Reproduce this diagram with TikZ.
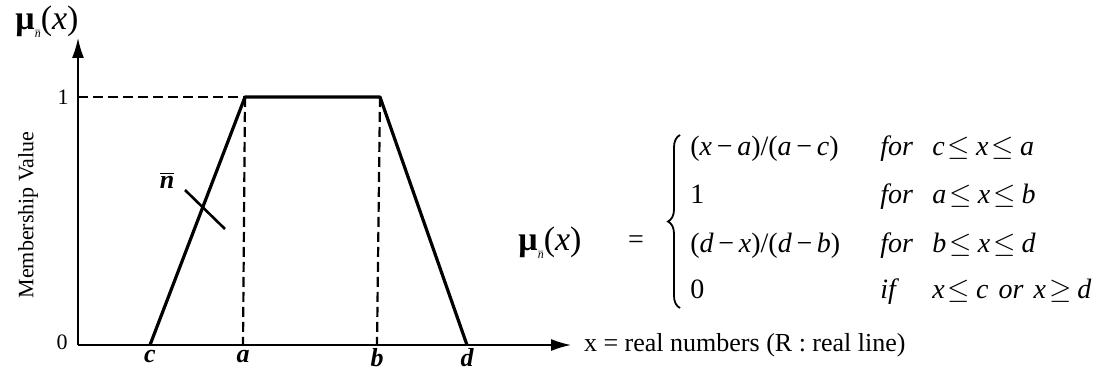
\documentclass[tikz,border=0pt]{standalone}
\usepackage{fontspec}
\setmainfont{Liberation Serif}
\usetikzlibrary{arrows.meta,decorations.pathreplacing}
\tikzset{
  mfaxis/.style={line width=0.8pt, -{Latex[length=10pt,width=6pt]}},
  mfedge/.style={line width=1.6pt},
  mfdash/.style={line width=1.1pt, dash pattern=on 5pt off 2.5pt},
  mfbrace/.style={line width=0.9pt, decorate, decoration={brace, amplitude=6pt}},
  mflab/.style={font=\fontsize{11}{13}\selectfont, inner sep=1pt},
  mfpt/.style={font=\fontsize{13}{15}\selectfont\bfseries\itshape, inner sep=0pt},
  mfrow/.style={anchor=base west, font=\fontsize{14}{16}\selectfont, inner sep=0pt},
}
\newcommand{\mfmu}{\textbf{μ}\raisebox{-0.5ex}{\fontsize{6}{7}\selectfont$\bar{\mbox{\textit{n}}}$}(\textit{x})}
\newcommand{\mfle}{\hspace{1.5pt}$\leq$\hspace{3pt}}
\newcommand{\mfge}{\hspace{1.5pt}$\geq$\hspace{3pt}}

\begin{document}
\begin{tikzpicture}[x=0.5pt, y=0.5pt]
  \useasboundingbox (0,0) rectangle (1109,370);

  % axes
  \coordinate (o) at (78,25);
  \coordinate (ytip) at (78,332);
  \coordinate (xtip) at (571,25);
  \draw[mfaxis] (o) -- (ytip);
  \draw[mfaxis] (o) -- (xtip);

  % trapezoid corners
  \coordinate (c0) at (150,25);
  \coordinate (a1) at (245,273);
  \coordinate (b1) at (380,273);
  \coordinate (d0) at (467,25);
  \coordinate (a0) at (243,25);
  \coordinate (b0) at (377,25);
  \coordinate (y1) at (78,273);

  \draw[mfdash] (y1) -- (a1);
  \draw[mfdash] (a1) -- (a0);
  \draw[mfdash] (b1) -- (b0);
  \draw[mfedge, line join=round] (c0) -- (a1) -- (b1) -- (d0);

  % labels on axes
  \node[font=\fontsize{17}{19}\selectfont] (ylab) at (47,348) {\mfmu};
  \node[mflab, rotate=90] (mval) at (28,155) {Membership Value};
  \node[mflab] (one) at (63,273) {1};
  \node[mflab] (zero) at (62,28) {0};
  \node[mfpt] (lc) at (150,13) {c};
  \node[mfpt] (la) at (243,13) {a};
  \node[mfpt] (lb) at (377,12) {b};
  \node[mfpt] (ld) at (467,12) {d};
  \node[anchor=west, font=\fontsize{13}{15}\selectfont] (xlab) at (577,25) {x = real numbers (R : real line)};

  % fuzzy number label
  \node[mfpt] (nbar) at (167,190) {$\overline{\mbox{\textit{n}}}$};
  \coordinate (lead1) at (185,180);
  \coordinate (lead2) at (225,141);
  \draw[line width=1.3pt] (lead1) -- (lead2);

  % definition
  \node[font=\fontsize{17}{19}\selectfont] (eqmu) at (550,127) {\mfmu};
  \node[font=\fontsize{14}{16}\selectfont] (eq) at (636,128) {=};
  \coordinate (brbot) at (680,62);
  \coordinate (brtop) at (680,235);
  \draw[mfbrace] (brbot) -- (brtop);

  \node[mfrow] (r1) at (690,214) {(\textit{x}\,−\,\textit{a})/(\textit{a}\,−\,\textit{c})};
  \node[mfrow] (r2) at (690,166) {1};
  \node[mfrow] (r3) at (690,118) {(\textit{d}\,−\,\textit{x})/(\textit{d}\,−\,\textit{b})};
  \node[mfrow] (r4) at (690,72) {0};

  \node[mfrow] (f1) at (880,214) {\textit{for}};
  \node[mfrow] (f2) at (880,166) {\textit{for}};
  \node[mfrow] (f3) at (880,118) {\textit{for}};
  \node[mfrow] (f4) at (880,72) {\textit{if}};

  \node[mfrow] (k1) at (932,214) {\textit{c}\mfle\textit{x}\mfle\textit{a}};
  \node[mfrow] (k2) at (932,166) {\textit{a}\mfle\textit{x}\mfle\textit{b}};
  \node[mfrow] (k3) at (932,118) {\textit{b}\mfle\textit{x}\mfle\textit{d}};
  \node[mfrow] (k4) at (932,72) {\textit{x}\mfle\textit{c}\hspace{5pt}\textit{or}\hspace{5pt}\textit{x}\mfge\textit{d}};
\end{tikzpicture}
\end{document}
